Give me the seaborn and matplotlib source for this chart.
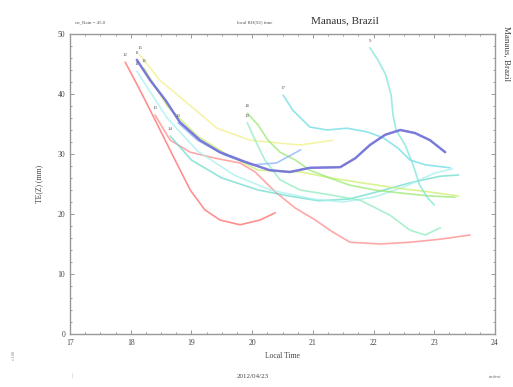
import numpy as np
import pandas as pd
import matplotlib
matplotlib.use("Agg")
import matplotlib.pyplot as plt
from matplotlib.ticker import MultipleLocator
import seaborn as sns

# precipitable water traces, local time (h) vs value (mm)
red_t = [17.91, 18.15, 18.40, 18.73, 18.98, 19.22, 19.47, 19.80, 20.13, 20.38]
red_v = [45.3, 40.7, 35.7, 29.0, 24.0, 20.7, 19.0, 18.2, 19.0, 20.2]

salmon_t = [18.40, 18.65, 18.98, 19.39, 19.80, 20.05, 20.38, 20.71, 21.04, 21.28, 21.61, 22.11, 22.60, 23.10, 23.59]
salmon_v = [36.5, 32.3, 30.3, 29.3, 28.5, 27.0, 23.7, 21.0, 19.0, 17.3, 15.3, 15.0, 15.3, 15.8, 16.5]

purple_t = [18.10, 18.32, 18.57, 18.81, 19.14, 19.47, 19.88, 20.29, 20.62, 20.95, 21.45, 21.70, 21.94, 22.19, 22.44, 22.68, 22.93, 23.18]
purple_v = [45.7, 42.3, 39.0, 35.3, 32.3, 30.3, 28.7, 27.3, 27.0, 27.7, 27.8, 29.3, 31.5, 33.2, 34.0, 33.5, 32.3, 30.3]

blue_t = [18.78, 19.1, 19.55, 20.0, 20.4, 20.8]
blue_v = [35.2, 32.3, 29.8, 28.2, 28.5, 30.7]

cyan9_t = [21.94, 22.07, 22.20, 22.29, 22.32, 22.37, 22.52, 22.65, 22.76, 22.89, 23.0]
cyan9_v = [47.7, 45.7, 43.2, 39.8, 36.5, 34.0, 31.5, 28.2, 24.8, 22.7, 21.5]

cyan17_t = [20.51, 20.67, 20.95, 21.23, 21.56, 21.89, 22.16, 22.40, 22.60, 22.85, 23.26]
cyan17_v = [39.8, 37.3, 34.5, 34.0, 34.3, 33.7, 32.7, 31.0, 29.0, 28.2, 27.7]

green_t = [19.92, 20.10, 20.26, 20.46, 20.71, 20.95, 21.28, 21.61, 22.02, 22.44, 22.93, 23.34]
green_v = [36.8, 34.8, 32.3, 30.3, 29.0, 27.3, 26.0, 24.8, 24.0, 23.5, 23.0, 22.8]

mint_t = [19.92, 20.05, 20.21, 20.46, 20.79, 21.28, 21.78, 22.27, 22.60, 22.85, 23.10]
mint_v = [35.2, 32.3, 29.0, 25.7, 24.0, 23.2, 22.3, 19.8, 17.3, 16.5, 17.7]

yellow_t = [18.15, 18.48, 18.93, 19.42, 19.97, 20.46, 20.79, 21.33]
yellow_v = [46.5, 42.3, 38.5, 34.3, 32.3, 31.8, 31.5, 32.3]

lime_t = [18.22, 18.6, 19.1, 19.6, 20.1, 20.8, 21.3, 21.8, 22.4, 22.9, 23.4]
lime_v = [44.3, 38.0, 33.0, 29.8, 27.3, 27.0, 26.0, 25.2, 24.3, 23.7, 23.0]

teal_t = [18.65, 19.0, 19.5, 20.1, 20.6, 21.1, 21.6, 22.1, 22.6, 23.1, 23.4]
teal_v = [33.0, 29.0, 26.0, 24.0, 23.0, 22.2, 22.5, 23.8, 25.2, 26.3, 26.5]

ice_t = [18.10, 18.6, 19.1, 19.7, 20.3, 21.0, 21.5, 22.0, 22.5, 23.0, 23.3]
ice_v = [43.8, 36.0, 30.5, 26.5, 24.0, 22.5, 22.0, 22.8, 24.5, 26.8, 27.5]

runs = {
    "red": (red_t, red_v, "#ff6a6a", "12"),
    "salmon": (salmon_t, salmon_v, "#ff8a8a", "13"),
    "teal": (teal_t, teal_v, "#6fdccc", "14"),
    "ice": (ice_t, ice_v, "#a8f0f0", "11"),
    "yellow": (yellow_t, yellow_v, "#f2f08a", "15"),
    "lime": (lime_t, lime_v, "#cdf070", "16"),
    "green": (green_t, green_v, "#9ae872", "18"),
    "mint": (mint_t, mint_v, "#8eecc0", "19"),
    "cyan17": (cyan17_t, cyan17_v, "#6cdce4", "17"),
    "cyan9": (cyan9_t, cyan9_v, "#7ae6d8", "9"),
    "blue": (blue_t, blue_v, "#88b4f8", "10"),
    "purple": (purple_t, purple_v, "#7474d8", "8"),
}

frames = []
for name, (t, v, c, lab) in runs.items():
    frames.append(pd.DataFrame({"time": t, "pw": v, "run": name}))
df = pd.concat(frames, ignore_index=True)
palette = {k: r[2] for k, r in runs.items()}

sns.set_theme(style="ticks")
plt.rcParams["font.family"] = ["Liberation Serif", "DejaVu Serif"]

fig = plt.figure(figsize=(5.13, 3.87), dpi=100)
ax = fig.add_axes([70 / 513, 53 / 387, 425 / 513, 300 / 387])

sns.lineplot(data=df, x="time", y="pw", hue="run", palette=palette,
             sort=False, estimator=None, legend=False, linewidth=1.2, alpha=0.75, ax=ax)
# the thick purple trace sits on top
sub = df[df.run == "purple"]
sns.lineplot(data=sub, x="time", y="pw", color="#7474d8", sort=False,
             estimator=None, linewidth=1.8, alpha=0.85, ax=ax)

for name, (t, v, c, lab) in runs.items():
    ax.text(t[0], v[0] + 0.8, lab, fontsize=3.5, color="#555555", ha="center", va="bottom")

ax.set_xlim(17, 24)
ax.set_ylim(0, 50)
ax.xaxis.set_major_locator(MultipleLocator(1))
ax.xaxis.set_minor_locator(MultipleLocator(0.25))
ax.yaxis.set_major_locator(MultipleLocator(10))
ax.yaxis.set_minor_locator(MultipleLocator(2))
ax.tick_params(which="both", direction="in", top=True, right=True, colors="#888888",
               labelcolor="#444444", labelsize=5.5, width=0.6)
ax.tick_params(which="major", length=3)
ax.tick_params(which="minor", length=1.5)
for s in ax.spines.values():
    s.set_color("#999999")
    s.set_linewidth(1.0)

ax.set_xlabel("Local Time", fontsize=5.5, color="#444444", labelpad=4)
ax.set_ylabel("TE(Z) (mm)", fontsize=5.5, color="#444444", labelpad=10)

fig.text(75 / 513, 1 - 22 / 387, "cn_Rain = 45.0", fontsize=3.5, color="#555555", va="center")
fig.text(255 / 513, 1 - 22 / 387, "local RH(92) time", fontsize=3.5, color="#555555",
         ha="center", va="center")
fig.text(345 / 513, 1 - 21 / 387, "Manaus, Brazil", fontsize=8, color="#333333",
         ha="center", va="center")
fig.text(506 / 513, 1 - 26 / 387, "Manaus, Brazil", fontsize=6.5, color="#444444",
         rotation=270, ha="center", va="top")
fig.text(253 / 513, 1 - 377 / 387, "2012/04/23", fontsize=5, color="#444444",
         ha="center", va="center")
fig.text(495 / 513, 1 - 377 / 387, "m-dewt", fontsize=3, color="#666666",
         ha="center", va="center")
fig.text(14 / 513, 1 - 355 / 387, "v1.00", fontsize=3, color="#777777",
         rotation=90, ha="center", va="center")
fig.text(72 / 513, 1 - 375 / 387, "|", fontsize=4, color="#999999", ha="center", va="center")

fig.savefig("out.png", dpi=100)
